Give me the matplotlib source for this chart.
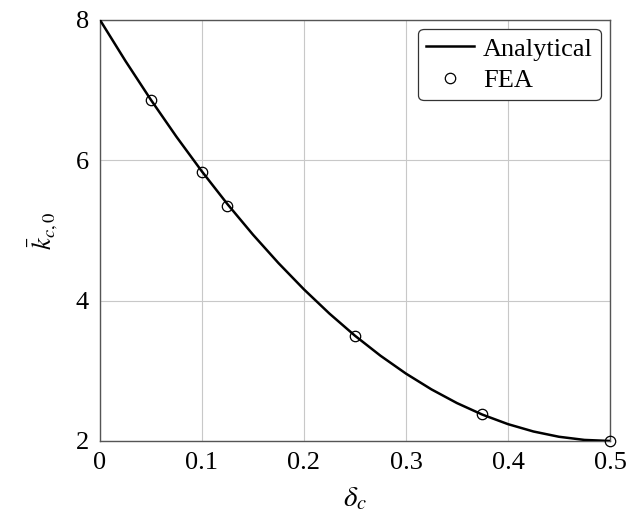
import matplotlib
matplotlib.use("Agg")
import matplotlib.pyplot as plt

plt.rcParams['font.family'] = ['Liberation Serif', 'DejaVu Serif']
plt.rcParams['mathtext.fontset'] = 'stix'

# Analytical curve, values
delta_line = [0.0, 0.025, 0.05, 0.075, 0.1, 0.125, 0.15, 0.175, 0.2, 0.225,
              0.25, 0.275, 0.3, 0.325, 0.35, 0.375, 0.4, 0.425, 0.45, 0.475, 0.5]
k_line = [8.0, 7.415, 6.86, 6.335, 5.84, 5.375, 4.94, 4.535, 4.16, 3.815,
          3.5, 3.215, 2.96, 2.735, 2.54, 2.375, 2.24, 2.135, 2.06, 2.015, 2.0]

# FEA points
delta_fea = [0.05, 0.1, 0.125, 0.25, 0.375, 0.5]
k_fea = [6.86, 5.84, 5.35, 3.5, 2.38, 2.0]

xticks = [0, 0.1, 0.2, 0.3, 0.4, 0.5]
xticklabels = ['0', '0.1', '0.2', '0.3', '0.4', '0.5']
yticks = [2, 4, 6, 8]

fig = plt.figure(figsize=(6.34, 5.13), dpi=100)
ax = fig.add_axes([0.1577, 0.1404, 0.8044, 0.8207])

ax.plot(delta_line, k_line, color='black', lw=1.8, label='Analytical', zorder=3)
ax.plot(delta_fea, k_fea, linestyle='none', marker='o', markersize=7.5,
        markerfacecolor='none', markeredgecolor='black', markeredgewidth=0.9,
        label='FEA', zorder=4, clip_on=False)

ax.set_xlim(0, 0.5)
ax.set_ylim(2, 8)
ax.set_xticks(xticks)
ax.set_xticklabels(xticklabels)
ax.set_yticks(yticks)
ax.grid(True, color='#c8c8c8', lw=0.8)
ax.set_axisbelow(True)
ax.tick_params(length=0, labelsize=19, pad=8)
for s in ax.spines.values():
    s.set_color('#555555')
    s.set_linewidth(1.0)

ax.set_xlabel(r'$\delta_c$', fontsize=21, va='center')
ax.xaxis.set_label_coords(0.5, -0.137)
ax.set_ylabel(r'$\bar{k}_{c,0}$', fontsize=19, va='center')
ax.yaxis.set_label_coords(-0.11, 0.5)

leg = ax.legend(loc='upper right', fontsize=19, frameon=True, fancybox=True,
                edgecolor='#333333', framealpha=1, handlelength=1.8,
                borderpad=0.3, labelspacing=0.32, handletextpad=0.35,
                borderaxespad=0.35)
leg.get_frame().set_linewidth(0.9)

fig.savefig('out.png', dpi=100)
